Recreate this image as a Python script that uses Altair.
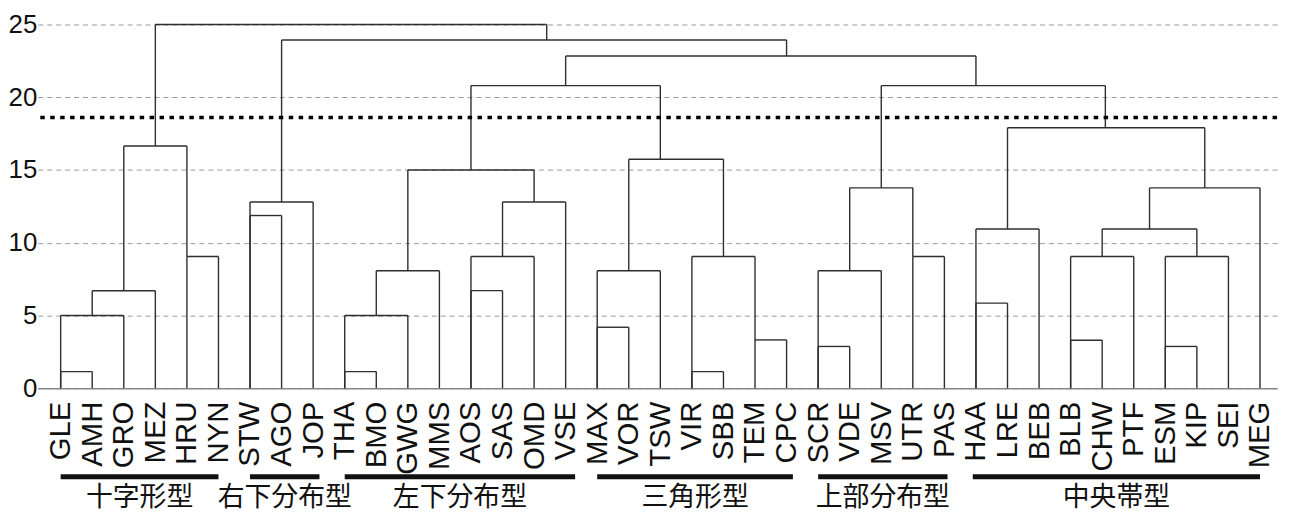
import altair as alt
import pandas as pd

# ---------------- data ----------------
leaves = ["GLE", "AMH", "GRO", "MEZ", "HRU", "NYN", "STW", "AGO", "JOP",
          "THA", "BMO", "GWG", "MMS", "AOS", "SAS", "OMD", "VSE",
          "MAX", "VOR", "TSW", "VIR", "SBB", "TEM", "CPC",
          "SCR", "VDE", "MSV", "UTR", "PAS",
          "HAA", "LRE", "BEB", "BLB", "CHW", "PTF", "ESM", "KIP", "SEI", "MEG"]

# each merge: left child position / its height, right child position / its height, merge height
merge_xl = [0, 0, 1, 4, 2, 6, 6,
            9, 9, 10, 13, 13, 14, 11,
            17, 17, 20, 22, 20, 18, 13,
            24, 24, 27, 25,
            29, 29, 32, 32, 35, 35, 33, 34.5, 30, 26,
            16, 7, 3]
merge_hl = [0, 0, 5.0, 0, 6.7, 0, 0,
            0, 0, 5.0, 0, 0, 9.05, 8.07,
            0, 0, 0, 0, 0, 8.07, 15.0,
            0, 0, 0, 8.07,
            0, 0, 0, 0, 0, 0, 9.05, 10.94, 10.94, 13.77,
            20.8, 12.8, 16.65]
merge_xr = [1, 2, 3, 5, 4, 7, 8,
            10, 11, 12, 14, 15, 16, 15,
            18, 19, 21, 23, 22, 21, 19,
            25, 26, 28, 27,
            30, 31, 33, 34, 36, 37, 36, 38, 36.25, 33.1,
            29, 23, 15.4]
merge_hr = [0, 0, 0, 0, 9.05, 0, 0,
            0, 0, 0, 0, 0, 0, 12.8,
            0, 0, 0, 0, 3.32, 9.05, 15.74,
            0, 0, 0, 9.05,
            0, 0, 0, 0, 0, 0, 9.05, 0, 13.77, 17.9,
            20.8, 22.83, 23.93]
merge_h = [1.14, 5.0, 6.7, 9.05, 16.65, 11.87, 12.8,
           1.14, 5.0, 8.07, 6.71, 9.05, 12.8, 15.0,
           4.19, 8.07, 1.14, 3.32, 9.05, 15.74, 20.8,
           2.87, 8.07, 9.05, 13.77,
           5.85, 10.94, 3.3, 9.05, 2.87, 9.05, 10.94, 13.77, 17.9, 20.8,
           22.83, 23.93, 25.0]

threshold = 18.6

group_names = ["十字形型", "右下分布型", "左下分布型", "三角形型", "上部分布型", "中央帯型"]
group_start = [0, 6, 9, 17, 24, 28.9]
group_end = [5, 8.2, 16.3, 23.2, 28.1, 38]

y_ticks = [0, 5, 10, 15, 20, 25]

# ---------------- tables ----------------
rows = []
for xl, hl, xr, hr, h in zip(merge_xl, merge_hl, merge_xr, merge_hr, merge_h):
    rows.append({"x": xl, "x2": xl, "y": hl, "y2": h})
    rows.append({"x": xr, "x2": xr, "y": hr, "y2": h})
    rows.append({"x": xl, "x2": xr, "y": h, "y2": h})
seg = pd.DataFrame(rows)

groups = pd.DataFrame({"name": group_names, "x": group_start, "x2": group_end})
groups["xc"] = (groups["x"] + groups["x2"]) / 2

thr = pd.DataFrame({"y": [threshold]})

# ---------------- chart ----------------
xs = alt.Scale(domain=[-0.724, 38.54], nice=False, zero=False)
ys = alt.Scale(domain=[0, 25], nice=False, zero=True)

label_expr = "[" + ",".join("'%s'" % n for n in leaves) + "][datum.value]"

x_axis = alt.Axis(values=list(range(len(leaves))), labelExpr=label_expr,
                  labelAngle=-90, labelFontSize=29.5, labelFont="Liberation Sans",
                  labelColor="#111111", ticks=False, grid=False,
                  domainColor="#888888", domainWidth=1.5, labelPadding=13,
                  labelOverlap=False, labelFlush=False, labelBound=False, title=None)

y_axis = alt.Axis(values=y_ticks, grid=True, gridDash=[5, 4], gridColor="#9a9a9a",
                  gridWidth=1, domain=False, ticks=False, labelFontSize=26,
                  labelFont="Liberation Sans", labelColor="#111111",
                  labelPadding=1, title=None)

dend = alt.Chart(seg).mark_rule(color="#2e2e2e", strokeWidth=1.4).encode(
    x=alt.X("x:Q", scale=xs, axis=x_axis),
    x2="x2:Q",
    y=alt.Y("y:Q", scale=ys, axis=y_axis),
    y2="y2:Q",
)

thr_line = alt.Chart(thr).mark_rule(color="black", strokeWidth=3.5, strokeDash=[4.5, 5.5]).encode(
    y=alt.Y("y:Q", scale=ys, axis=y_axis)
)

bars = alt.Chart(groups).mark_rule(color="#111111", strokeWidth=5).encode(
    x=alt.X("x:Q", scale=xs, axis=x_axis),
    x2="x2:Q",
    y=alt.value(455),
)

texts = alt.Chart(groups).mark_text(font="Noto Sans CJK JP", fontSize=27, color="#111111",
                                    baseline="middle", align="center").encode(
    x=alt.X("xc:Q", scale=xs, axis=x_axis),
    y=alt.value(477),
    text="name:N",
)

chart = alt.layer(dend, thr_line, bars, texts).properties(
    width=1247,
    height=366,
    background="white",
    autosize=alt.AutoSizeParams(type="none"),
    padding={"left": 30, "top": 15, "right": 7, "bottom": 127},
).configure_view(stroke="transparent", strokeWidth=0)

chart.save("out.html", embed_options={"renderer": "svg", "actions": False})
